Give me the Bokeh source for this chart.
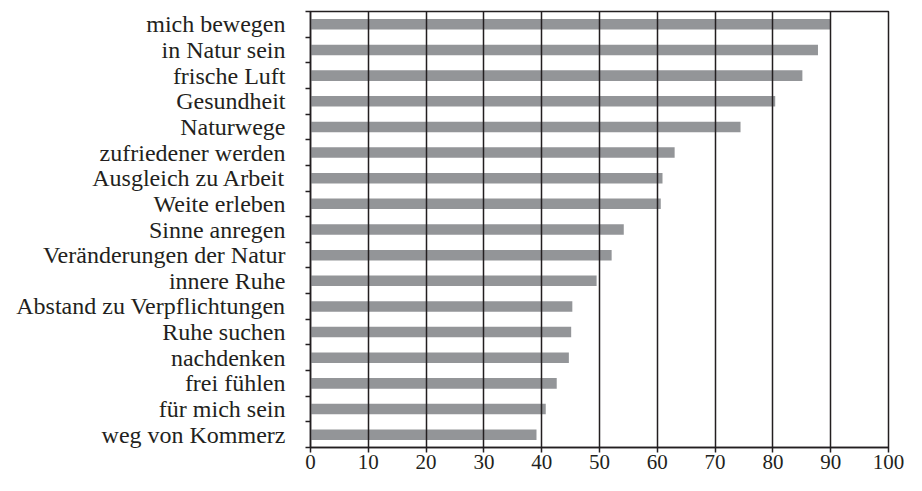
from bokeh.plotting import figure
from bokeh.models import Range1d, FixedTicker
from bokeh.embed import file_html
from bokeh.resources import INLINE

categories = [
    "mich bewegen", "in Natur sein", "frische Luft", "Gesundheit", "Naturwege",
    "zufriedener werden", "Ausgleich zu Arbeit", "Weite erleben", "Sinne anregen",
    "Veränderungen der Natur", "innere Ruhe", "Abstand zu Verpflichtungen",
    "Ruhe suchen", "nachdenken", "frei fühlen", "für mich sein", "weg von Kommerz",
]
values = [90.0, 87.8, 85.1, 80.4, 74.4, 63.0, 60.9, 60.6, 54.2, 52.1, 49.5,
          45.3, 45.1, 44.7, 42.6, 40.7, 39.1]
x_ticks = [0, 10, 20, 30, 40, 50, 60, 70, 80, 90, 100]

n = len(categories)
ypos = [n - i - 0.5 for i in range(n)]
bounds = list(range(n + 1))

FONT = "Liberation Serif"
INK = "#231f20"

p = figure(width=906, height=483, output_backend="svg", toolbar_location=None,
           x_range=Range1d(0, 100), y_range=Range1d(0, n),
           min_border_left=310, min_border_right=18, min_border_top=11,
           min_border_bottom=36)

p.hbar(y=ypos, right=values, left=0, height=0.41, color="#939598", line_color=None)

p.outline_line_color = INK
p.outline_line_width = 1.5
p.ygrid.visible = False
p.xgrid.ticker = FixedTicker(ticks=x_ticks)
p.xgrid.grid_line_color = INK
p.xgrid.grid_line_width = 1.5
p.xgrid.level = "overlay"

xa = p.xaxis[0]
xa.ticker = FixedTicker(ticks=x_ticks)
xa.axis_line_color = INK
xa.axis_line_width = 1.5
xa.major_tick_line_color = INK
xa.major_tick_line_width = 1.5
xa.major_tick_in = 0
xa.major_tick_out = 5
xa.minor_tick_line_color = None
xa.major_label_text_font = FONT
xa.major_label_text_font_size = "21px"
xa.major_label_text_color = INK
xa.major_label_standoff = 2

ya = p.yaxis[0]
ya.ticker = FixedTicker(ticks=ypos, minor_ticks=bounds)
ya.major_label_overrides = {y: c for y, c in zip(ypos, categories)}
ya.axis_line_color = INK
ya.axis_line_width = 1.5
ya.major_tick_line_color = None
ya.major_tick_in = 0
ya.major_tick_out = 0
ya.minor_tick_line_color = INK
ya.minor_tick_line_width = 1.5
ya.minor_tick_in = 0
ya.minor_tick_out = 5
ya.major_label_text_font = FONT
ya.major_label_text_font_size = "24px"
ya.major_label_text_color = INK
ya.major_label_standoff = 20

open("out.html", "w").write(file_html(p, INLINE))
